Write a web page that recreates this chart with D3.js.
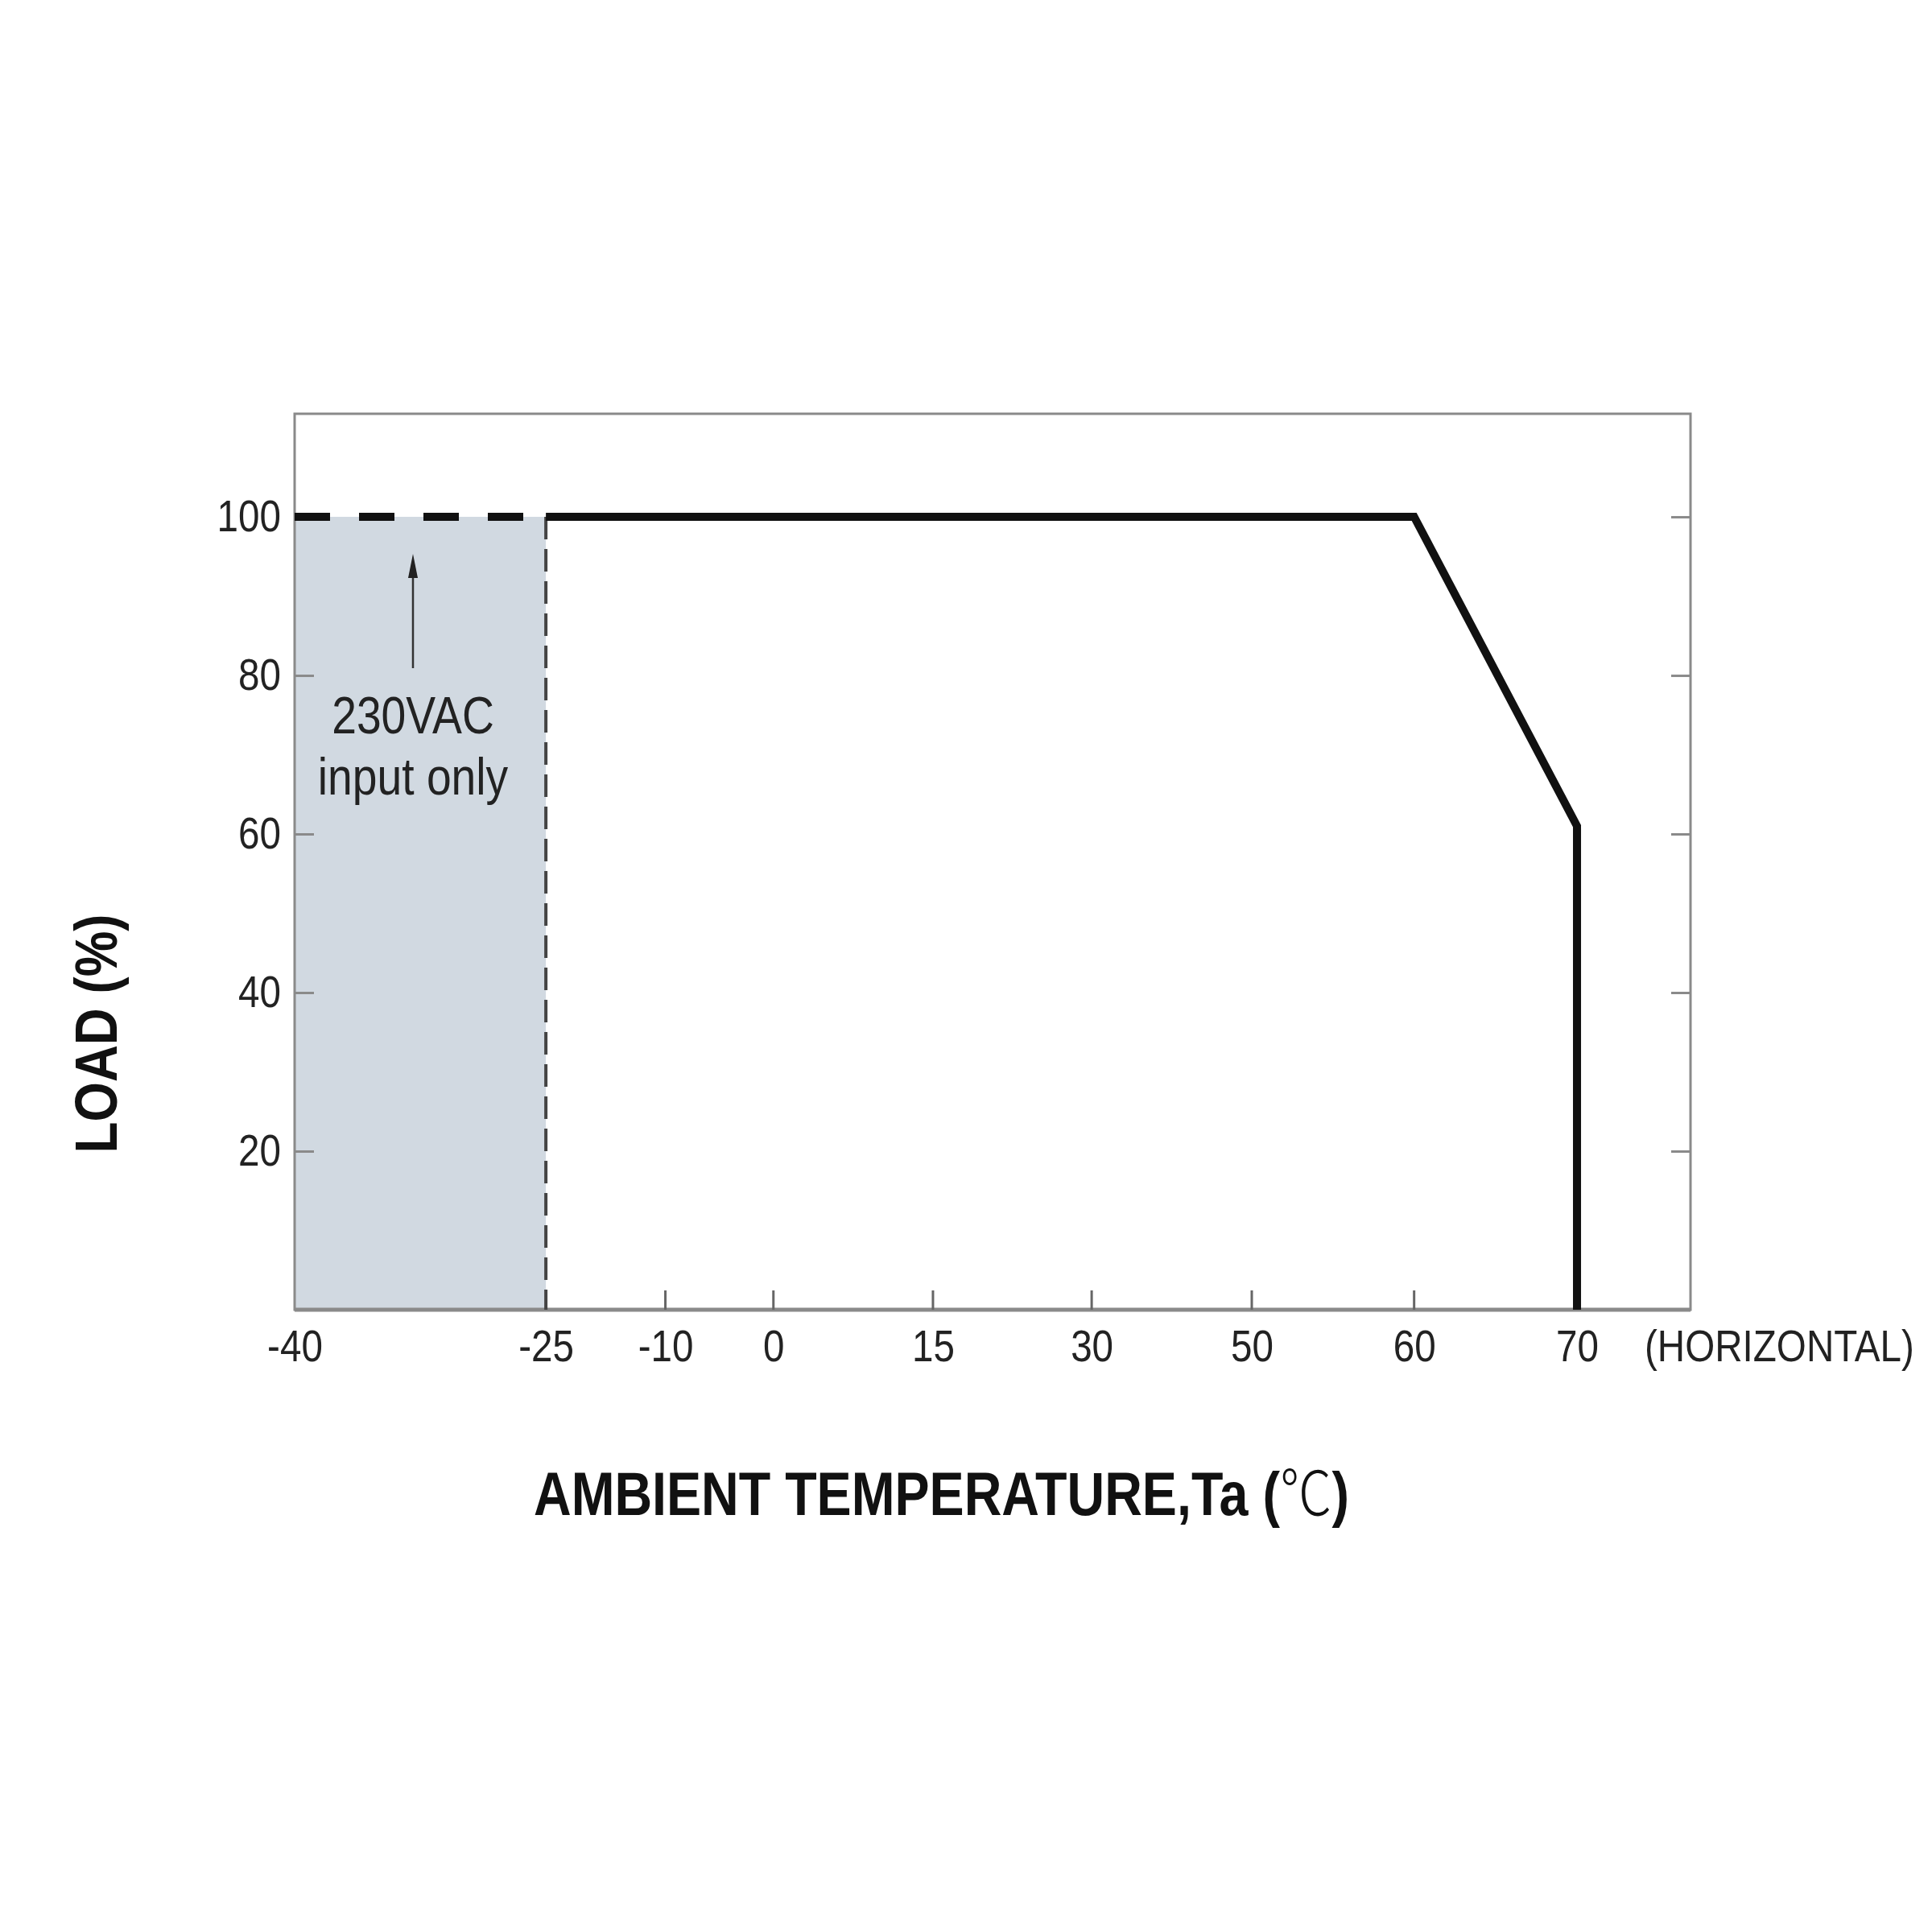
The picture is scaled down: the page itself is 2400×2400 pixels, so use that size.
<!DOCTYPE html>
<html>
<head>
<meta charset="utf-8">
<script src="https://cdn.jsdelivr.net/npm/d3@7"></script>
<style>
  body { margin: 0; background: #fff; }
  text { font-family: "Liberation Sans", Arial, sans-serif; }
</style>
</head>
<body>
<svg width="2400" height="2400"></svg>
<script>
// data
var xTicks = [-40, -25, -10, 0, 15, 30, 50, 60, 70];
var yTicks = [20, 40, 60, 80, 100];
var curveTemp = [-25, 60, 70, 70];
var curveLoad = [100, 100, 61, 0];
var lowTemp = [-40, -25];
var lowLoad = [100, 100];
var tickedTemps = [-10, 0, 15, 30, 50, 60];

// the temperature axis is not linear, ticks are spaced by hand
var xFrac = [0, 0.180, 0.2656, 0.343, 0.4573, 0.571, 0.6857, 0.802, 0.9187];

var svg = d3.select("svg");
var pLeft = 366, pRight = 2100, pTop = 514, pBottom = 1627;
var w = pRight - pLeft;
var narrow = "scale(0.85,1)";   // no narrow font installed, squeeze instead

var x = d3.scaleLinear()
    .domain(xTicks)
    .range(xFrac.map(function (f) { return pLeft + f * w; }));

var y = d3.scaleLinear()
    .domain([0, 113])
    .range([pBottom, pTop]);

// grey zone for 230VAC only
svg.append("rect")
    .attr("x", x(-40))
    .attr("y", y(100))
    .attr("width", x(-25) - x(-40))
    .attr("height", y(0) - y(100))
    .style("fill", "#d1d9e1");

// frame
svg.append("rect")
    .attr("x", pLeft)
    .attr("y", pTop)
    .attr("width", w)
    .attr("height", pBottom - pTop)
    .style("fill", "none")
    .style("stroke", "#8a8a8a")
    .style("stroke-width", 3);

svg.append("line")
    .attr("x1", pLeft).attr("x2", pRight)
    .attr("y1", pBottom).attr("y2", pBottom)
    .style("stroke", "#8a8a8a")
    .style("stroke-width", 5);

// y ticks, inside on both sides
var yAxisL = d3.axisLeft(y).tickValues(yTicks).tickSize(-24);
var gl = svg.append("g")
    .attr("transform", "translate(" + pLeft + ",0)")
    .call(yAxisL);
gl.select(".domain").remove();
gl.selectAll(".tick line").style("stroke", "#8a8a8a").style("stroke-width", 3);
gl.selectAll(".tick text")
    .attr("x", -20)
    .attr("transform", narrow)
    .style("font-size", "56px")
    .style("fill", "#222");

var yAxisR = d3.axisRight(y).tickValues(yTicks).tickSize(-24).tickFormat("");
var gr = svg.append("g")
    .attr("transform", "translate(" + pRight + ",0)")
    .call(yAxisR);
gr.select(".domain").remove();
gr.selectAll(".tick line").style("stroke", "#8a8a8a").style("stroke-width", 3);

// x ticks
var xAxis = d3.axisBottom(x).tickValues(xTicks).tickSize(0)
    .tickFormat(function (d) { return String(d); });
var gx = svg.append("g")
    .attr("transform", "translate(0," + pBottom + ")")
    .call(xAxis);
gx.select(".domain").remove();
gx.selectAll(".tick text")
    .attr("y", 64)
    .attr("dy", 0)
    .attr("transform", narrow)
    .style("font-size", "56px")
    .style("fill", "#222");

svg.append("g")
    .selectAll("line")
    .data(tickedTemps)
    .enter().append("line")
    .attr("x1", function (d) { return x(d); })
    .attr("x2", function (d) { return x(d); })
    .attr("y1", pBottom)
    .attr("y2", pBottom - 24)
    .style("stroke", "#666")
    .style("stroke-width", 3);

svg.append("text")
    .attr("transform", "translate(2043," + (pBottom + 64) + ") " + narrow)
    .text("(HORIZONTAL)")
    .style("font-size", "56px")
    .style("fill", "#222");

// dashed boundary at -25
svg.append("line")
    .attr("x1", x(-25)).attr("x2", x(-25))
    .attr("y1", y(100)).attr("y2", y(0))
    .style("stroke", "#444")
    .style("stroke-width", 4)
    .style("stroke-dasharray", "28,12");

// curves
var line = d3.line()
    .x(function (d) { return x(d[0]); })
    .y(function (d) { return y(d[1]); });

svg.append("path")
    .datum(d3.zip(lowTemp, lowLoad))
    .attr("d", line)
    .style("fill", "none")
    .style("stroke", "#111")
    .style("stroke-width", 10)
    .style("stroke-dasharray", "44,36");

svg.append("path")
    .datum(d3.zip(curveTemp, curveLoad))
    .attr("d", line)
    .style("fill", "none")
    .style("stroke", "#111")
    .style("stroke-width", 10)
    .style("stroke-linejoin", "miter");

// note + arrow
var ax = 513;
svg.append("line")
    .attr("x1", ax).attr("x2", ax)
    .attr("y1", 830).attr("y2", 712)
    .style("stroke", "#333")
    .style("stroke-width", 2.5);
svg.append("path")
    .attr("d", "M" + ax + ",688 L" + (ax - 6) + ",718 L" + (ax + 6) + ",718 Z")
    .style("fill", "#222");

svg.append("text")
    .attr("transform", "translate(" + ax + ",911) " + narrow)
    .attr("text-anchor", "middle")
    .text("230VAC")
    .style("font-size", "65px")
    .style("fill", "#222");
svg.append("text")
    .attr("transform", "translate(" + ax + ",987) " + narrow)
    .attr("text-anchor", "middle")
    .text("input only")
    .style("font-size", "65px")
    .style("fill", "#222");

// axis titles
svg.append("text")
    .attr("transform", "translate(145,1284) rotate(-90) scale(0.86,1)")
    .attr("text-anchor", "middle")
    .text("LOAD (%)")
    .style("font-size", "74px")
    .style("font-weight", "bold")
    .style("fill", "#111");

var xt = svg.append("text")
    .attr("transform", "translate(663,1882) scale(0.85,1)")
    .style("font-size", "76px")
    .style("font-weight", "bold")
    .style("fill", "#111");
xt.append("tspan").text("AMBIENT TEMPERATURE,Ta (");
xt.append("tspan")
    .text("\u2103")
    .style("font-family", "'Noto Sans CJK SC', sans-serif")
    .style("font-weight", "300")
    .style("font-size", "76px");
xt.append("tspan").text(")");
</script>
</body>
</html>
